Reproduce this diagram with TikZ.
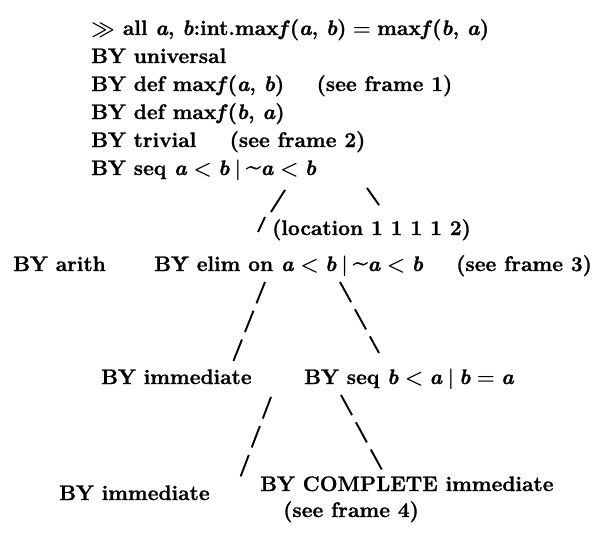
\documentclass[tikz,border=0pt]{standalone}
\usepackage{fontspec}
\setmainfont{Latin Modern Roman}[BoldFeatures={FakeBold=1.2},BoldItalicFeatures={FakeBold=1.2}]
\newcommand\vv[1]{\textit{#1}}
\newcommand\rel[1]{\hspace{0.3em}$#1$\hspace{0.3em}}
\newcommand\bbar{\hspace{0.24em}$|$\hspace{0.24em}}
\newcommand\tld{\raisebox{0.03em}{\scalebox{1.25}{\textasciitilde}}}
\begin{document}
\begin{tikzpicture}[x=1pt,y=-1pt,
  lab/.style={anchor=base west, inner sep=0pt, font=\fontsize{21}{25}\selectfont\bfseries\boldmath},
  conn/.style={line width=1.9pt, dash pattern=on 23pt off 8pt},
  tick/.style={line width=1.9pt}]
\useasboundingbox (0,0) rectangle (601,536);
% top chain
\node[lab] (goal) at (91,35) {$\gg$ all \vv{a}, \vv{b}:int.max\vv{f}(\vv{a}, \vv{b})\rel{=}max\vv{f}(\vv{b}, \vv{a})};
\node[lab] (univ) at (91,63) {BY universal};
\node[lab] (defab) at (91,91) {BY def max\vv{f}(\vv{a}, \vv{b})};
\node[lab] (sf1) at ([xshift=32pt]defab.base east) {(see frame 1)};
\node[lab] (defba) at (91,119) {BY def max\vv{f}(\vv{b}, \vv{a})};
\node[lab] (triv) at (91,147) {BY trivial};
\node[lab] (sf2) at ([xshift=33pt]triv.base east) {(see frame 2)};
\node[lab] (seqab) at (91,175) {BY seq \vv{a}\rel{<}\vv{b}\bbar\tld\vv{a}\rel{<}\vv{b}};
% middle
\node[lab] (loc) at (272,235) {(location 1 1 1 1 2)};
\node[lab] (arith) at (13,271) {BY arith};
\node[lab] (elim) at (154,271) {B\.{Y} elim on \vv{a}\rel{<}\vv{b}\bbar\tld\vv{a}\rel{<}\vv{b}};
\node[lab] (sf3) at (456,271) {(see frame 3)};
\node[lab] (imm1) at (101,384) {BY immediate};
\node[lab] (seqba) at (304,384) {BY seq \vv{b}\rel{<}\vv{a}\bbar\vv{b}\rel{=}\vv{a}};
\node[lab] (imm2) at (59,500) {BY immediate};
\node[lab] (compl) at (260,491) {BY COMPLETE immediate};
\node[lab] (sf4) at (283,517) {(see frame 4)};
% connector ends
\coordinate (s1) at (285,190); \coordinate (e1) at (271,212);
\coordinate (s2) at (367,188); \coordinate (e2) at (379,205);
\coordinate (s3) at (265,217); \coordinate (e3) at (258,232);
\coordinate (s4) at (265,282); \coordinate (e4) at (233,362);
\coordinate (s5) at (340,282); \coordinate (e5) at (379,353);
\coordinate (s6) at (271,397); \coordinate (e6) at (240,478);
\coordinate (s7) at (341,395); \coordinate (e7) at (382,470);
\draw[tick] (s1) -- (e1);
\draw[tick] (s2) -- (e2);
\draw[tick] (s3) -- (e3);
\draw[conn] (s4) -- (e4);
\draw[conn] (s5) -- (e5);
\draw[conn] (s6) -- (e6);
\draw[conn] (s7) -- (e7);
\end{tikzpicture}
\end{document}
